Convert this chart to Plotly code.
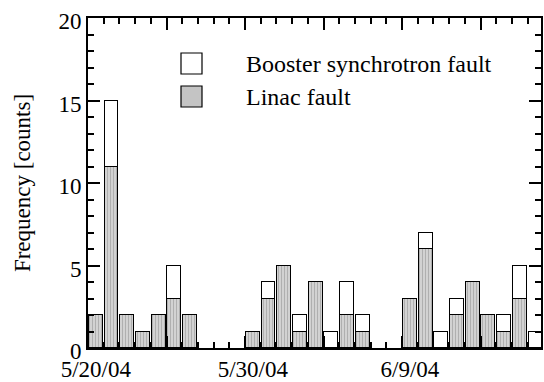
import plotly.graph_objects as go

# ---- data ----
dates = [
    "2004-05-20", "2004-05-21", "2004-05-22", "2004-05-23", "2004-05-24",
    "2004-05-25", "2004-05-26", "2004-05-27", "2004-05-28", "2004-05-29",
    "2004-05-30", "2004-05-31", "2004-06-01", "2004-06-02", "2004-06-03",
    "2004-06-04", "2004-06-05", "2004-06-06", "2004-06-07", "2004-06-08",
    "2004-06-09", "2004-06-10", "2004-06-11", "2004-06-12", "2004-06-13",
    "2004-06-14", "2004-06-15", "2004-06-16", "2004-06-17",
]
linac_fault = [2, 11, 2, 1, 2, 3, 2, 0, 0, 0,
               1, 3, 5, 1, 4, 0, 2, 1, 0, 0,
               3, 6, 0, 2, 4, 2, 1, 3, 0]
booster_fault = [0, 4, 0, 0, 0, 2, 0, 0, 0, 0,
                 0, 1, 0, 1, 0, 1, 2, 1, 0, 0,
                 0, 1, 1, 1, 0, 0, 1, 2, 1]
tick_dates = ["2004-05-20", "2004-05-30", "2004-06-09"]
tick_text = ["5/20/04", "5/30/04", "6/9/04"]
series_names = ["Booster synchrotron fault", "Linac fault"]

DAY_MS = 86400000
FONT = "Liberation Serif, Times New Roman, serif"

fig = go.Figure()
fig.add_trace(go.Bar(
    x=dates, y=[v if v else None for v in linac_fault], name=series_names[1],
    width=0.88 * DAY_MS,
    marker=dict(color="#d2d2d2", line=dict(color="black", width=1.5),
                pattern=dict(shape="|", fgcolor="#8c8c8c", bgcolor="#d2d2d2",
                             size=3, solidity=0.35)),
    showlegend=False,
))
fig.add_trace(go.Bar(
    x=dates, y=[v if v else None for v in booster_fault], name=series_names[0],
    width=0.88 * DAY_MS,
    marker=dict(color="white", line=dict(color="black", width=1.5)),
    showlegend=False,
))
# helper (invisible) trace so the label axis is drawn
fig.add_trace(go.Scatter(
    x=tick_dates, y=[None] * len(tick_dates), xaxis="x2", yaxis="y",
    mode="markers", showlegend=False, hoverinfo="skip",
))

xrange = ["2004-05-19 12:00", "2004-06-17 08:24"]

fig.update_layout(
    width=544, height=382,
    margin=dict(l=88, r=3, t=18, b=34),
    paper_bgcolor="white", plot_bgcolor="white",
    barmode="stack", bargap=0,
    font=dict(family=FONT, size=23, color="black"),
    xaxis=dict(
        type="date", range=xrange, automargin=False,
        tickmode="linear", tick0="2004-05-19 12:00", dtick=5 * DAY_MS,
        ticks="inside", ticklen=12, tickwidth=2, tickcolor="black",
        showticklabels=False,
        minor=dict(tick0="2004-05-19 12:00", dtick=DAY_MS, ticks="inside",
                   ticklen=6, tickwidth=2, tickcolor="black"),
        showline=True, linewidth=2, linecolor="black", mirror="ticks",
        showgrid=False, zeroline=False,
    ),
    xaxis2=dict(
        type="date", range=xrange, overlaying="x", side="bottom", anchor="y",
        automargin=False,
        tickmode="array", tickvals=tick_dates, ticktext=tick_text,
        ticks="", showline=False, showgrid=False, zeroline=False,
        ticklabelstandoff=5, ticklabeloverflow="allow",
        tickfont=dict(family=FONT, size=23, color="black"),
    ),
    yaxis=dict(
        range=[0, 20], tickmode="linear", tick0=0, dtick=5, automargin=False,
        ticks="inside", ticklen=12, tickwidth=2, tickcolor="black",
        minor=dict(dtick=1, ticks="inside", ticklen=6, tickwidth=2, tickcolor="black"),
        showline=True, linewidth=2, linecolor="black", mirror="ticks",
        showgrid=False, zeroline=False,
        ticklabeloverflow="allow", ticklabelshift=3,
        tickfont=dict(family=FONT, size=23, color="black"),
        title=dict(text="Frequency [counts]", standoff=21,
                   font=dict(family=FONT, size=23, color="black")),
    ),
)

# ---- manual legend (positions in reference pixels -> paper coords) ----
def px_x(p):
    return (p - 88) / 453.0

def px_y(p):
    return (348 - p) / 330.0

legend_rows = [(series_names[0], "white", 53, 74, 64),
               (series_names[1], "#c4c4c4", 86, 107, 97)]
for name, fill, top, bot, mid in legend_rows:
    fig.add_shape(type="rect", xref="paper", yref="paper",
                  x0=px_x(181), x1=px_x(202), y0=px_y(bot), y1=px_y(top),
                  fillcolor=fill, line=dict(color="black", width=1.2))
    fig.add_annotation(xref="paper", yref="paper", x=px_x(244), y=px_y(mid),
                       text=name, showarrow=False, xanchor="left", yanchor="middle",
                       font=dict(family=FONT, size=24, color="black"))

# remove the default 8px body margin so the figure fills the window exactly
fig.write_html("out.html", config={"displayModeBar": False},
               post_script="document.body.style.margin='0';")
